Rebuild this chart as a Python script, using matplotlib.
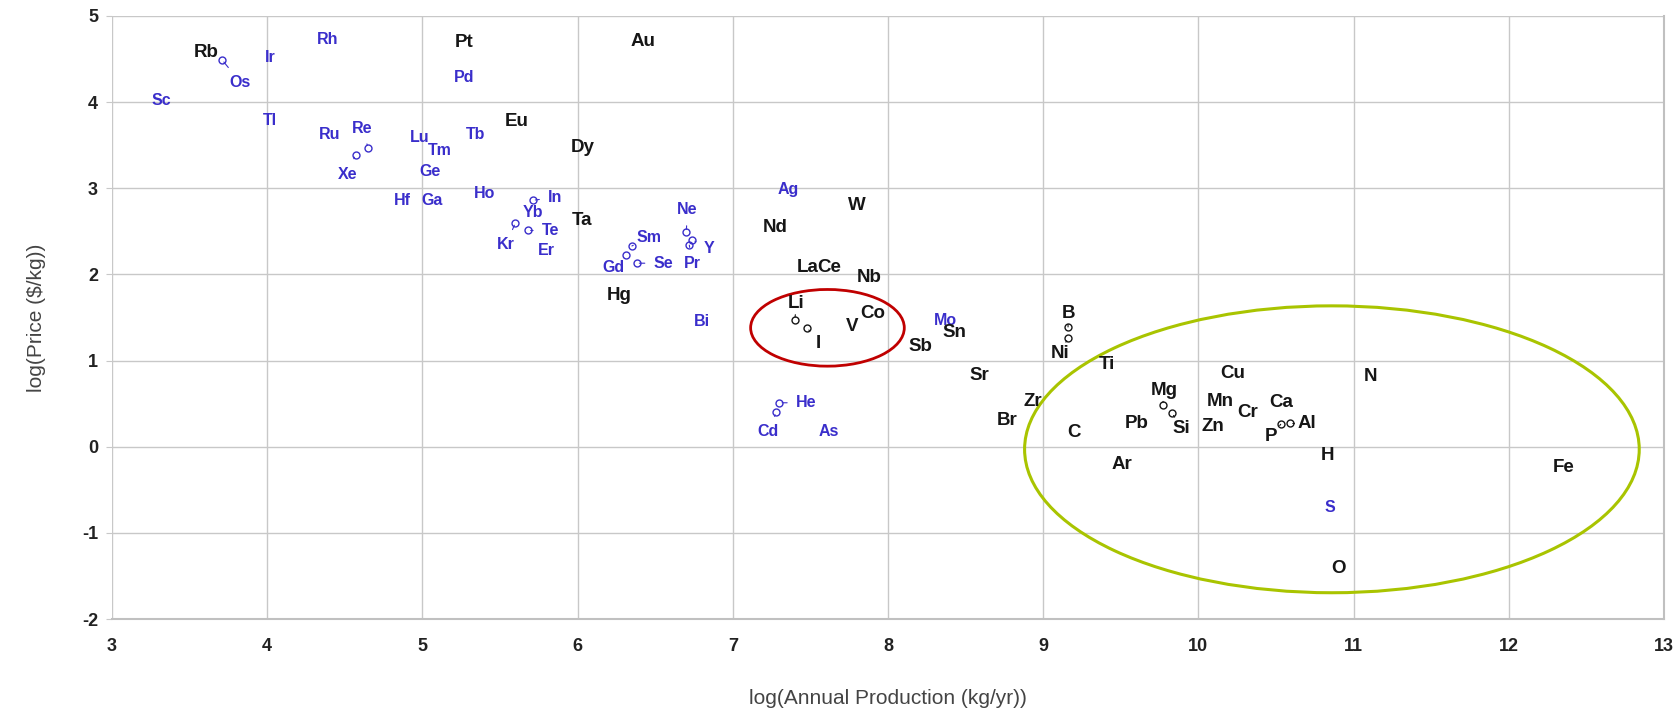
import matplotlib
matplotlib.use('Agg')
import matplotlib.pyplot as plt
from matplotlib.patches import Ellipse

plt.rcParams['font.family'] = ['Liberation Sans', 'DejaVu Sans']
plt.rcParams['axes.unicode_minus'] = False

# Element labels, log10 annual production (kg/yr), log10 price ($/kg).
# blue = 1 marks the elements drawn in blue in the original chart.
elements = ['Rb', 'Ir', 'Rh', 'Pt', 'Pd', 'Au', 'Sc', 'Os', 'Tl', 'Ru',
            'Re', 'Xe', 'Lu', 'Tm', 'Tb', 'Eu', 'Dy', 'Ge', 'Hf', 'Ga',
            'Ho', 'In', 'Yb', 'Te', 'Kr', 'Ta', 'Er', 'Sm', 'Gd', 'Se',
            'Ne', 'Y', 'Pr', 'Ag', 'W', 'Nd', 'La', 'Ce', 'Nb', 'Hg',
            'Bi', 'Li', 'I', 'V', 'Co', 'Mo', 'Sn', 'Sb', 'B', 'Ni',
            'Sr', 'Ti', 'Zr', 'Br', 'C', 'He', 'Cd', 'As', 'Cu', 'Mg',
            'Mn', 'Cr', 'Ca', 'Pb', 'Si', 'Zn', 'Al', 'P', 'N', 'H',
            'Ar', 'Fe', 'S', 'O']
log_prod = [3.61, 4.02, 4.39, 5.27, 5.27, 6.42, 3.32, 3.71, 4.02, 4.40,
            4.65, 4.57, 4.98, 5.11, 5.34, 5.61, 6.03, 5.05, 4.87, 5.06,
            5.40, 5.71, 5.71, 5.68, 5.60, 6.03, 5.80, 6.35, 6.31, 6.38,
            6.70, 6.74, 6.72, 7.36, 7.80, 7.27, 7.48, 7.62, 7.88, 6.27,
            6.80, 7.40, 7.48, 7.77, 7.90, 8.37, 8.43, 8.21, 9.16, 9.16,
            8.59, 9.41, 8.93, 8.77, 9.20, 7.30, 7.28, 7.62, 10.22, 9.77,
            10.14, 10.32, 10.53, 9.60, 9.83, 10.09, 10.59, 10.53, 11.11, 10.83,
            9.51, 12.35, 10.85, 10.90]
log_price = [4.58, 4.52, 4.73, 4.69, 4.29, 4.70, 4.02, 4.49, 3.79, 3.62,
             3.47, 3.39, 3.59, 3.44, 3.62, 3.77, 3.47, 3.19, 2.86, 2.86,
             2.94, 2.86, 2.72, 2.51, 2.60, 2.63, 2.28, 2.33, 2.22, 2.13,
             2.49, 2.40, 2.34, 2.98, 2.80, 2.54, 2.08, 2.08, 1.96, 1.76,
             1.45, 1.47, 1.38, 1.39, 1.55, 1.47, 1.32, 1.16, 1.39, 1.26,
             0.83, 0.95, 0.52, 0.31, 0.16, 0.51, 0.40, 0.18, 0.85, 0.48,
             0.52, 0.40, 0.51, 0.27, 0.39, 0.23, 0.27, 0.26, 0.81, -0.10,
             -0.21, -0.24, -0.71, -1.41]
blue = [0, 1, 1, 0, 1, 0, 1, 1, 1, 1,
        1, 1, 1, 1, 1, 0, 0, 1, 1, 1,
        1, 1, 1, 1, 1, 0, 1, 1, 1, 1,
        1, 1, 1, 1, 0, 0, 0, 0, 0, 0,
        1, 0, 0, 0, 0, 1, 0, 0, 0, 0,
        0, 0, 0, 0, 0, 1, 1, 1, 0, 0,
        0, 0, 0, 0, 0, 0, 0, 0, 0, 0,
        0, 0, 1, 0]

# labels that sit away from their point (offset in points, marker drawn)
label_offset = {
    'Os': (13, -16), 'Re': (-4, 14), 'Xe': (-6, -14), 'In': (16, 2),
    'Te': (16, 0), 'Kr': (-7, -16), 'Sm': (12, 6), 'Gd': (-9, -9),
    'Se': (19, 0), 'Ne': (1, 16), 'Y': (12, -6), 'Pr': (2, -13),
    'Li': (1, 12), 'I': (8, -11), 'B': (0, 10), 'Ni': (-6, -11),
    'Mg': (1, 11), 'Si': (7, -11), 'Al': (12, 0), 'P': (-7, -9),
    'He': (19, 0), 'Cd': (-6, -14),
}

BLUE = '#3a2ecb'
BLACK = '#161616'

fig = plt.figure(figsize=(16.78, 7.12), dpi=100)
ax = fig.add_axes([0.0667, 0.1306, 0.925, 0.847])

for el, x, y, b in zip(elements, log_prod, log_price, blue):
    col = BLUE if b else BLACK
    size = 11.5 if b else 13.5
    if el in label_offset:
        ax.plot(x, y, 'o', ms=5, mfc='none', mec=col, mew=1.0)
        ax.annotate(el, xy=(x, y), xytext=label_offset[el],
                    textcoords='offset points', ha='center', va='center',
                    fontsize=size, fontweight='bold', color=col,
                    arrowprops=dict(arrowstyle='-', color=col, lw=0.8,
                                    shrinkA=4, shrinkB=2))
    else:
        ax.text(x, y, el, ha='center', va='center', fontsize=size,
                fontweight='bold', color=col)

# highlight ellipses
ax.add_patch(Ellipse((7.61, 1.38), 0.99, 0.89, fill=False,
                     ec='#c00000', lw=2.0))
ax.add_patch(Ellipse((10.86, -0.03), 3.96, 3.33, fill=False,
                     ec='#a9c400', lw=2.2))

ax.set_xlim(3, 13)
ax.set_ylim(-2, 5)
ax.set_xticks(range(3, 14))
ax.set_yticks(range(-2, 6))
ax.grid(True, color='#c8c8c8', lw=1.0)
ax.set_axisbelow(True)
for s in ['left', 'top']:
    ax.spines[s].set_visible(False)
for s in ['right', 'bottom']:
    ax.spines[s].set_color('#c0c0c0')
    ax.spines[s].set_linewidth(1.5)
ax.tick_params(axis='y', length=4, color='#c8c8c8', pad=6,
               labelsize=13, labelcolor='#222222')
ax.tick_params(axis='x', length=0, pad=14, labelsize=13,
               labelcolor='#222222')
for lab in ax.get_xticklabels() + ax.get_yticklabels():
    lab.set_fontweight('bold')

ax.set_xlabel('log(Annual Production (kg/yr))', fontsize=15,
              color='#444444', labelpad=24)
ax.set_ylabel('log(Price ($/kg))', fontsize=15, color='#444444',
              labelpad=26)

fig.savefig('out.png', dpi=100, facecolor='white')
